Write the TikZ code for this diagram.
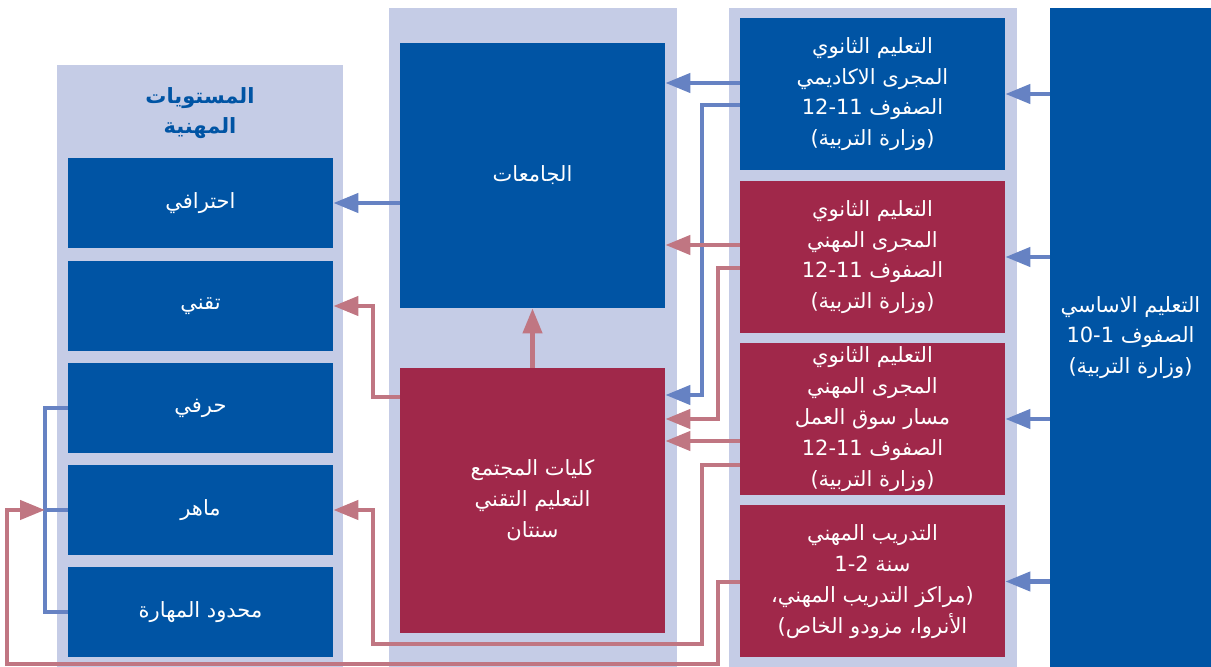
\documentclass[tikz,border=0pt]{standalone}
\usepackage{fontspec}
\newfontfamily\arabicfont[Script=Arabic]{DejaVu Sans}
\TeXXeTstate=1
\usetikzlibrary{arrows.meta}
\definecolor{darkblue}{HTML}{0054A4}
\definecolor{wine}{HTML}{A0284A}
\definecolor{lavender}{HTML}{C5CCE6}
\definecolor{lineblue}{HTML}{6682C3}
\definecolor{linered}{HTML}{C07682}
\newcommand{\artxt}[1]{\beginR #1\endR}

\begin{document}
\begin{tikzpicture}[x=0.5pt,y=-0.5pt,
  box/.style={text=white,align=center,inner sep=0pt,font=\arabicfont\fontsize{10.5}{15.4}\selectfont},
  bluebox/.style={box,fill=darkblue},
  redbox/.style={box,fill=wine},
  level/.style={bluebox,minimum width=132.5pt,minimum height=45pt},
  school/.style={minimum width=132.5pt,minimum height=76pt},
  big/.style={minimum width=132.5pt,minimum height=132.5pt},
  title/.style={text=darkblue,align=center,font=\arabicfont\bfseries\fontsize{10.5}{15}\selectfont},
  blueline/.style={draw=lineblue,line width=2.2pt},
  redline/.style={draw=linered,line width=2.2pt},
  bluearrow/.style={blueline,-{Triangle[length=12.5pt,width=9.5pt]}},
  redarrow/.style={redline,-{Triangle[length=12.5pt,width=9.5pt]}}]
\useasboundingbox (0,0) rectangle (1211,667);

% panels
\fill [lavender] (57,65) rectangle (343,667);
\fill [lavender] (389,8) rectangle (677,667);
\fill [lavender] (729,8) rectangle (1017,667);

% levels
\node [title] (levels) at (200,113) {\artxt{المستويات}\\\artxt{المهنية}};
\node [level] (prof) at (200.5,203) {\artxt{احترافي}};
\node [level] (tech) at (200.5,306) {\artxt{تقني}};
\node [level] (craft) at (200.5,408) {\artxt{حرفي}};
\node [level] (skilled) at (200.5,510) {\artxt{ماهر}};
\node [level] (limited) at (200.5,612) {\artxt{محدود المهارة}};

% universities and colleges
\node [bluebox,big] (uni) at (532.5,175.5) {\artxt{الجامعات}};
\node [redbox,big] (college) at (532.5,500.5) {\artxt{كليات المجتمع}\\\artxt{التعليم التقني}\\\artxt{سنتان}};

% secondary and training
\node [bluebox,school] (sec1) at (872.5,94) {\artxt{التعليم الثانوي}\\\artxt{المجرى الاكاديمي}\\\artxt{الصفوف \beginL 12-11\endL}\\\artxt{(وزارة التربية)}};
\node [redbox,school] (sec2) at (872.5,257) {\artxt{التعليم الثانوي}\\\artxt{المجرى المهني}\\\artxt{الصفوف \beginL 12-11\endL}\\\artxt{(وزارة التربية)}};
\node [redbox,school] (sec3) at (872.5,419) {\artxt{التعليم الثانوي}\\\artxt{المجرى المهني}\\\artxt{مسار سوق العمل}\\\artxt{الصفوف \beginL 12-11\endL}\\\artxt{(وزارة التربية)}};
\node [redbox,school] (train) at (872.5,581.5) {\artxt{التدريب المهني}\\\artxt{سنة \beginL 1-2\endL}\\\artxt{(مراكز التدريب المهني،}\\\artxt{الأنروا، مزودو الخاص)}};

% basic education
\node [bluebox,minimum width=80.5pt,minimum height=329.5pt] (basic) at (1130.5,337.5) {\artxt{التعليم الاساسي}\\\artxt{الصفوف \beginL 10-1\endL}\\\artxt{(وزارة التربية)}};

% basic to secondary
\draw [bluearrow] (basic.west |- sec1) -- (sec1.east);
\draw [bluearrow] (basic.west |- sec2) -- (sec2.east);
\draw [bluearrow] (basic.west |- sec3) -- (sec3.east);
\draw [bluearrow] (basic.west |- train) -- (train.east);

% secondary to universities and colleges
\draw [bluearrow] (sec1.west |- 0,83) -- (uni.east |- 0,83);
\draw [bluearrow] (sec1.west |- 0,105) -| (702,395) -- (college.east |- 0,395);
\draw [redarrow] (sec2.west |- 0,245) -- (uni.east |- 0,245);
\draw [redarrow] (sec2.west |- 0,268) -| (718,419) -- (college.east |- 0,419);
\draw [redarrow] (sec3.west |- 0,441) -- (college.east |- 0,441);
\draw [redarrow] (college.north) -- (uni.south);

% to the levels
\coordinate (joint) at (45,510);
\draw [blueline] (craft.west) -| (joint) |- (limited.west);
\draw [blueline] (joint) -- (skilled.west);
\draw [bluearrow] (uni.west |- prof) -- (prof.east);
\draw [redarrow] (college.west |- 0,397) -| (373,306) -- (tech.east);
\draw [redarrow] (sec3.west |- 0,465) -| (702,644) -| (373,510) -- (skilled.east);
\draw [redarrow] (train.west |- 0,582) -| (718,664) -| (7,510) -- (joint);
\end{tikzpicture}
\end{document}
